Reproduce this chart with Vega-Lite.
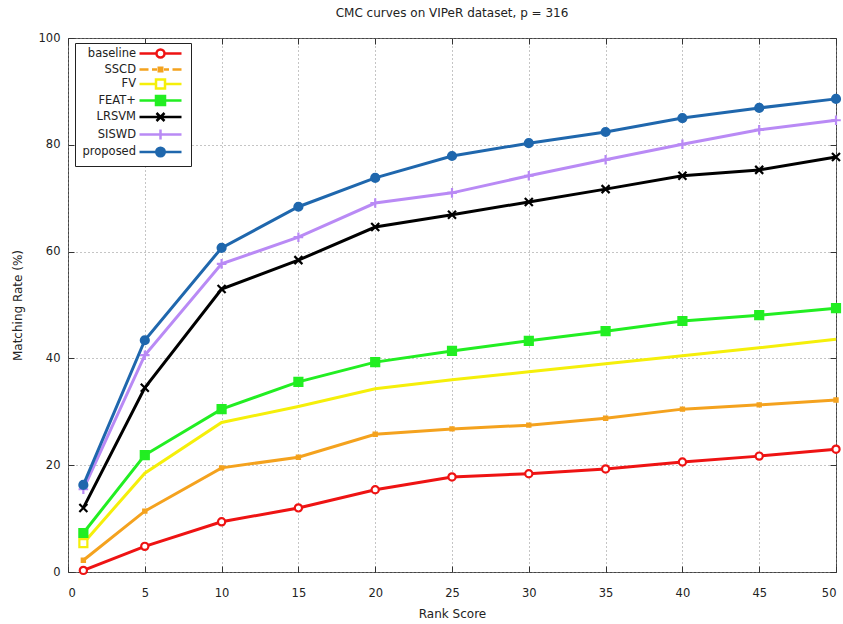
{
  "$schema": "https://vega.github.io/schema/vega-lite/v6.json",
  "width": 768,
  "height": 534,
  "autosize": {"type": "none"},
  "padding": {"left": 68, "top": 38, "right": 7, "bottom": 52},
  "background": "white",
  "title": {"text": "CMC curves on VIPeR dataset, p = 316", "fontSize": 12, "fontWeight": "normal", "font": "DejaVu Sans", "color": "#222222", "offset": 12, "anchor": "middle"},
  "config": {
    "view": {"stroke": "#444444", "strokeWidth": 1},
    "axis": {"labelFont": "DejaVu Sans", "labelFontSize": 11.5, "labelColor": "#222222", "titleFont": "DejaVu Sans", "titleFontSize": 12, "titleFontWeight": "normal", "titleColor": "#222222", "gridColor": "#8a8a8a", "gridDash": [1, 3], "gridWidth": 1, "tickColor": "#333333", "tickSize": -6, "domain": false}
  },
  "data": {"values": [
    {"series": "baseline", "rank": 1, "rate": 0.3}, {"series": "baseline", "rank": 5, "rate": 4.8}, {"series": "baseline", "rank": 10, "rate": 9.4}, {"series": "baseline", "rank": 15, "rate": 12.0}, {"series": "baseline", "rank": 20, "rate": 15.4}, {"series": "baseline", "rank": 25, "rate": 17.8}, {"series": "baseline", "rank": 30, "rate": 18.4}, {"series": "baseline", "rank": 35, "rate": 19.3}, {"series": "baseline", "rank": 40, "rate": 20.6}, {"series": "baseline", "rank": 45, "rate": 21.7}, {"series": "baseline", "rank": 50, "rate": 23.0},
    {"series": "SSCD", "rank": 1, "rate": 2.2}, {"series": "SSCD", "rank": 5, "rate": 11.4}, {"series": "SSCD", "rank": 10, "rate": 19.5}, {"series": "SSCD", "rank": 15, "rate": 21.5}, {"series": "SSCD", "rank": 20, "rate": 25.8}, {"series": "SSCD", "rank": 25, "rate": 26.8}, {"series": "SSCD", "rank": 30, "rate": 27.5}, {"series": "SSCD", "rank": 35, "rate": 28.8}, {"series": "SSCD", "rank": 40, "rate": 30.5}, {"series": "SSCD", "rank": 45, "rate": 31.3}, {"series": "SSCD", "rank": 50, "rate": 32.2},
    {"series": "FV", "rank": 1, "rate": 5.4}, {"series": "FV", "rank": 5, "rate": 18.5}, {"series": "FV", "rank": 10, "rate": 28.0}, {"series": "FV", "rank": 15, "rate": 31.0}, {"series": "FV", "rank": 20, "rate": 34.3}, {"series": "FV", "rank": 25, "rate": 36.0}, {"series": "FV", "rank": 30, "rate": 37.5}, {"series": "FV", "rank": 35, "rate": 39.0}, {"series": "FV", "rank": 40, "rate": 40.5}, {"series": "FV", "rank": 45, "rate": 42.0}, {"series": "FV", "rank": 50, "rate": 43.6},
    {"series": "FEAT+", "rank": 1, "rate": 7.3}, {"series": "FEAT+", "rank": 5, "rate": 21.9}, {"series": "FEAT+", "rank": 10, "rate": 30.5}, {"series": "FEAT+", "rank": 15, "rate": 35.6}, {"series": "FEAT+", "rank": 20, "rate": 39.3}, {"series": "FEAT+", "rank": 25, "rate": 41.4}, {"series": "FEAT+", "rank": 30, "rate": 43.3}, {"series": "FEAT+", "rank": 35, "rate": 45.1}, {"series": "FEAT+", "rank": 40, "rate": 47.0}, {"series": "FEAT+", "rank": 45, "rate": 48.1}, {"series": "FEAT+", "rank": 50, "rate": 49.4},
    {"series": "LRSVM", "rank": 1, "rate": 12.0}, {"series": "LRSVM", "rank": 5, "rate": 34.5}, {"series": "LRSVM", "rank": 10, "rate": 53.0}, {"series": "LRSVM", "rank": 15, "rate": 58.4}, {"series": "LRSVM", "rank": 20, "rate": 64.6}, {"series": "LRSVM", "rank": 25, "rate": 66.9}, {"series": "LRSVM", "rank": 30, "rate": 69.3}, {"series": "LRSVM", "rank": 35, "rate": 71.7}, {"series": "LRSVM", "rank": 40, "rate": 74.2}, {"series": "LRSVM", "rank": 45, "rate": 75.3}, {"series": "LRSVM", "rank": 50, "rate": 77.7},
    {"series": "SISWD", "rank": 1, "rate": 15.5}, {"series": "SISWD", "rank": 5, "rate": 40.6}, {"series": "SISWD", "rank": 10, "rate": 57.7}, {"series": "SISWD", "rank": 15, "rate": 62.7}, {"series": "SISWD", "rank": 20, "rate": 69.1}, {"series": "SISWD", "rank": 25, "rate": 71.0}, {"series": "SISWD", "rank": 30, "rate": 74.2}, {"series": "SISWD", "rank": 35, "rate": 77.2}, {"series": "SISWD", "rank": 40, "rate": 80.1}, {"series": "SISWD", "rank": 45, "rate": 82.8}, {"series": "SISWD", "rank": 50, "rate": 84.6},
    {"series": "proposed", "rank": 1, "rate": 16.3}, {"series": "proposed", "rank": 5, "rate": 43.4}, {"series": "proposed", "rank": 10, "rate": 60.7}, {"series": "proposed", "rank": 15, "rate": 68.4}, {"series": "proposed", "rank": 20, "rate": 73.8}, {"series": "proposed", "rank": 25, "rate": 77.9}, {"series": "proposed", "rank": 30, "rate": 80.3}, {"series": "proposed", "rank": 35, "rate": 82.4}, {"series": "proposed", "rank": 40, "rate": 85.0}, {"series": "proposed", "rank": 45, "rate": 86.9}, {"series": "proposed", "rank": 50, "rate": 88.6}
  ]},
  "layer": [
    {
      "mark": {"type": "line", "strokeWidth": 3},
      "encoding": {
        "x": {"field": "rank", "type": "quantitative", "scale": {"domain": [0, 50], "nice": false, "zero": false}, "axis": {"values": [0, 5, 10, 15, 20, 25, 30, 35, 40, 45, 50], "title": "Rank Score", "labelPadding": 21, "titlePadding": 10, "grid": true}},
        "y": {"field": "rate", "type": "quantitative", "scale": {"domain": [0, 100], "nice": false}, "axis": {"values": [0, 20, 40, 60, 80, 100], "title": "Matching Rate (%)", "labelPadding": 14, "titlePadding": 14, "grid": true}},
        "color": {"field": "series", "type": "nominal",
          "scale": {"domain": ["baseline", "SSCD", "FV", "FEAT+", "LRSVM", "SISWD", "proposed"], "range": ["#ee1313", "#f4a21e", "#f5ef0a", "#22ee22", "#000000", "#b98af5", "#1f67ad"]},
          "legend": {"title": null, "orient": "none", "legendX": 7, "legendY": 5, "padding": 4, "strokeColor": "#222222", "fillColor": "white", "cornerRadius": 0,
            "labelFont": "DejaVu Sans", "labelFontSize": 11.5, "labelColor": "#222222", "labelAlign": "right", "labelOffset": -31, "symbolOffset": 75, "symbolSize": 100, "symbolStrokeWidth": 2.5, "rowPadding": -2.5,
            "encode": {"symbols": {"update": {
              "shape": {"signal": "datum.value === 'baseline' ? 'M-4.2,0H-0.8M0.8,0H4.2M-0.8,0A0.8,0.8,0,1,0,0.8,0A0.8,0.8,0,1,0,-0.8,0Z' : datum.value === 'SSCD' ? 'M-4.2,0H-2.4M-1.7,0H-0.7M0.7,0H1.7M2.4,0H4.2M-0.35,-0.35H0.35V0.35H-0.35Z' : datum.value === 'FV' ? 'M-4.2,0H-0.9M0.9,0H4.2M-0.9,-0.9H0.9V0.9H-0.9Z' : datum.value === 'FEAT+' ? 'M-4.2,0H4.2M-0.9,-0.9H0.9V0.9H-0.9Z' : datum.value === 'LRSVM' ? 'M-4.2,0H4.2M-0.8,-0.8L0.8,0.8M-0.8,0.8L0.8,-0.8' : datum.value === 'SISWD' ? 'M-4.2,0H4.2M0,-1V1' : 'M-4.2,0H4.2M-0.85,0A0.85,0.85,0,1,0,0.85,0A0.85,0.85,0,1,0,-0.85,0Z'"},
              "fill": {"signal": "datum.value === 'SSCD' ? '#f4a21e' : datum.value === 'FEAT+' ? '#22ee22' : datum.value === 'proposed' ? '#1f67ad' : (datum.value === 'LRSVM' || datum.value === 'SISWD') ? 'transparent' : 'white'"},
              "size": {"value": 100},
              "strokeWidth": {"value": 2.5}
            }}}
          }
        }
      }
    },
    {
      "transform": [{"filter": "datum.series !== 'FV' || datum.rank === 1"}],
      "mark": {"type": "point", "filled": false, "strokeWidth": 2.2, "opacity": 1, "size": 64},
      "encoding": {
        "x": {"field": "rank", "type": "quantitative", "axis": {"values": [0, 5, 10, 15, 20, 25, 30, 35, 40, 45, 50], "labels": false, "title": null, "grid": false}},
        "y": {"field": "rate", "type": "quantitative", "axis": {"values": [0, 20, 40, 60, 80, 100], "labels": false, "title": null, "grid": false}},
        "color": {"field": "series", "type": "nominal"},
        "fill": {"field": "series", "type": "nominal", "legend": null,
          "scale": {"domain": ["proposed", "SISWD", "LRSVM", "FEAT+", "FV", "SSCD", "baseline"], "range": ["#1f67ad", "transparent", "transparent", "#22ee22", "white", "#f4a21e", "white"]}},
        "shape": {"field": "series", "type": "nominal", "legend": null,
          "scale": {"domain": ["proposed", "SISWD", "LRSVM", "FEAT+", "FV", "SSCD", "baseline"], "range": ["M-1,0A1,1,0,1,0,1,0A1,1,0,1,0,-1,0Z", "M-1.2,0H1.2M0,-1.2V1.2", "M-1,-1L1,1M-1,1L1,-1", "M-1,-1H1V1H-1Z", "M-1,-1H1V1H-1Z", "M-0.4,-0.4H0.4V0.4H-0.4Z", "M-0.9,0A0.9,0.9,0,1,0,0.9,0A0.9,0.9,0,1,0,-0.9,0Z"]}}
      }
    }
  ],
  "resolve": {"axis": {"x": "independent", "y": "independent"}}
}
